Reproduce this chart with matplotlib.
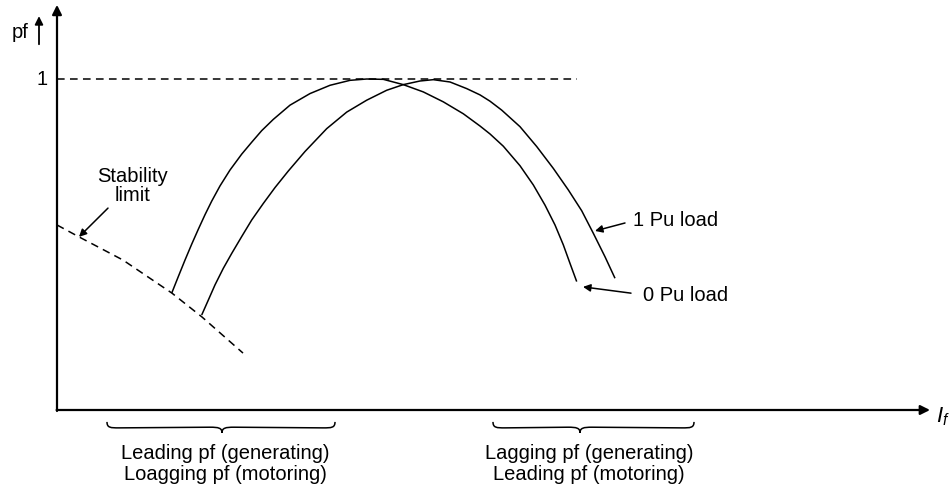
import matplotlib
matplotlib.use("Agg")
import matplotlib.pyplot as plt
from matplotlib.path import Path
from matplotlib.patches import PathPatch

plt.rcParams['font.family'] = ['Liberation Sans', 'DejaVu Sans']
plt.rcParams['mathtext.fontset'] = 'custom'
plt.rcParams['mathtext.it'] = 'Liberation Sans:italic'
plt.rcParams['mathtext.rm'] = 'Liberation Sans'

# field current (arbitrary units) vs power factor
if_0pu = [1.147, 1.213, 1.280, 1.347, 1.413, 1.480, 1.547, 1.630, 1.730, 1.847,
          1.947, 2.047, 2.163, 2.330, 2.530, 2.730, 2.930, 3.097, 3.263, 3.463,
          3.663, 3.863, 4.063, 4.230, 4.330, 4.463, 4.630, 4.763, 4.880, 4.980,
          5.063, 5.130, 5.197]
pf_0pu = [0.353, 0.403, 0.453, 0.501, 0.546, 0.590, 0.631, 0.677, 0.725, 0.773,
          0.809, 0.844, 0.878, 0.921, 0.956, 0.981, 0.996, 1.000, 0.999, 0.983,
          0.961, 0.931, 0.895, 0.858, 0.834, 0.797, 0.738, 0.680, 0.619, 0.559,
          0.499, 0.443, 0.388]

if_1pu = [1.447, 1.513, 1.580, 1.663, 1.747, 1.847, 1.947, 2.063, 2.180, 2.313,
          2.480, 2.697, 2.897, 3.097, 3.297, 3.463, 3.630, 3.763, 3.930, 4.097,
          4.230, 4.330, 4.447, 4.630, 4.797, 4.963, 5.113, 5.247, 5.363, 5.480,
          5.580]
pf_1pu = [0.287, 0.332, 0.378, 0.428, 0.473, 0.524, 0.574, 0.624, 0.672, 0.722,
          0.781, 0.850, 0.900, 0.936, 0.966, 0.983, 0.994, 0.998, 0.991, 0.971,
          0.952, 0.933, 0.906, 0.856, 0.796, 0.730, 0.665, 0.602, 0.534, 0.463,
          0.398]

if_stab = [0.0, 0.22, 0.66, 1.15, 1.45, 1.86]
pf_stab = [0.559, 0.523, 0.453, 0.353, 0.281, 0.172]

unity_end = 5.20

# braces under the x axis: (start, tip, end)
brace_left = (0.50, 1.65, 2.78)
brace_right = (4.36, 5.23, 6.37)
label_left = "Leading pf (generating)\nLoagging pf (motoring)"
label_right = "Lagging pf (generating)\nLeading pf (motoring)"

fig = plt.figure(figsize=(9.5, 4.9), dpi=100)
ax = fig.add_axes([0, 0, 1, 1])
ax.set_xlim(-0.57, 8.93)
ax.set_ylim(-0.2417, 1.2387)
ax.axis('off')

fs = 14.5
lw = 1.1

# axes with arrows
ax.annotate('', xy=(0, 1.224), xytext=(0, -0.003),
            arrowprops=dict(arrowstyle='-|>', lw=1.6, color='k',
                            mutation_scale=14, shrinkA=0, shrinkB=0))
ax.annotate('', xy=(8.73, 0), xytext=(-0.004, 0),
            arrowprops=dict(arrowstyle='-|>', lw=1.6, color='k',
                            mutation_scale=14, shrinkA=0, shrinkB=0))

# pf label with small arrow
ax.text(-0.37, 1.142, 'pf', fontsize=fs, ha='center', va='center')
ax.annotate('', xy=(-0.18, 1.19), xytext=(-0.18, 1.105),
            arrowprops=dict(arrowstyle='-|>', lw=1.3, color='k',
                            mutation_scale=12, shrinkA=0, shrinkB=0))
ax.text(-0.09, 1.0, '1', fontsize=fs, ha='right', va='center')
ax.text(8.79, -0.02, r'$I_f$', fontsize=16, ha='left', va='center')

# unity pf dashed line
ax.plot([0, unity_end], [1, 1], color='k', lw=lw, dashes=(5, 3.5))

# curves
ax.plot(if_0pu, pf_0pu, color='k', lw=lw, solid_capstyle='butt',
        solid_joinstyle='round')
ax.plot(if_1pu, pf_1pu, color='k', lw=lw, solid_capstyle='butt',
        solid_joinstyle='round')
ax.plot(if_stab, pf_stab, color='k', lw=lw, dashes=(5, 3.5))

# annotations
arr = dict(arrowstyle='-|>', lw=1.1, color='k', mutation_scale=11,
           shrinkA=0, shrinkB=0)
ax.text(0.76, 0.677, 'Stability\nlimit', fontsize=fs, ha='center',
        va='center', linespacing=1.05)
ax.annotate('', xy=(0.22, 0.523), xytext=(0.51, 0.61), arrowprops=arr)
ax.text(5.76, 0.574, '1 Pu load', fontsize=fs, ha='left', va='center')
ax.annotate('', xy=(5.38, 0.541), xytext=(5.68, 0.565), arrowprops=arr)
ax.text(5.86, 0.347, '0 Pu load', fontsize=fs, ha='left', va='center')
ax.annotate('', xy=(5.26, 0.372), xytext=(5.74, 0.353), arrowprops=arr)


def draw_brace(x0, xm, x1, ytop=-0.036, ybody=-0.054, ytip=-0.069):
    d = 0.12
    verts = [(x0, ytop),
             (x0, ybody), (x0 + d * 0.3, ybody), (x0 + d, ybody),
             (xm - d, ybody + 0.002),
             (xm - d * 0.3, ybody + 0.002), (xm, ybody), (xm, ytip),
             (xm, ybody), (xm + d * 0.3, ybody + 0.002), (xm + d, ybody + 0.002),
             (x1 - d, ybody),
             (x1 - d * 0.3, ybody), (x1, ybody), (x1, ytop)]
    codes = [Path.MOVETO,
             Path.CURVE4, Path.CURVE4, Path.CURVE4,
             Path.LINETO,
             Path.CURVE4, Path.CURVE4, Path.CURVE4,
             Path.CURVE4, Path.CURVE4, Path.CURVE4,
             Path.LINETO,
             Path.CURVE4, Path.CURVE4, Path.CURVE4]
    ax.add_patch(PathPatch(Path(verts, codes), fill=False, lw=1.1, color='k'))


draw_brace(*brace_left)
draw_brace(*brace_right)
ax.text(1.68, -0.163, label_left, fontsize=fs, ha='center', va='center',
        linespacing=1.1)
ax.text(5.32, -0.163, label_right, fontsize=fs, ha='center', va='center',
        linespacing=1.1)

fig.savefig('out.png', dpi=100)
